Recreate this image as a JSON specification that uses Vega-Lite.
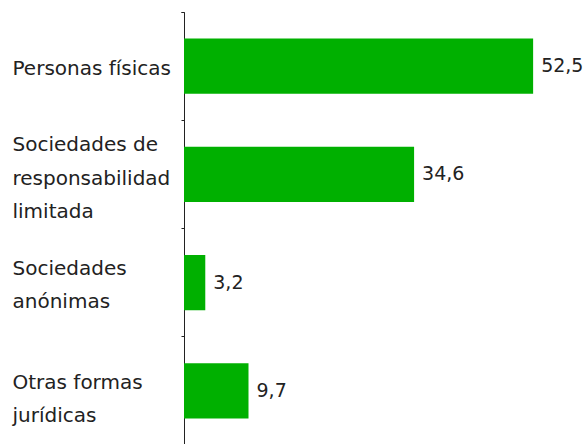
{
  "$schema": "https://vega.github.io/schema/vega-lite/v6.json",
  "width": 399,
  "height": 433,
  "autosize": {"type": "none"},
  "padding": {"left": 184, "top": 12, "right": 0, "bottom": 0},
  "config": {
    "view": {"stroke": null},
    "font": "DejaVu Sans",
    "locale": {"number": {"decimal": ",", "thousands": ".", "grouping": [3], "currency": ["", " €"]}}
  },
  "data": {
    "values": [
      {"forma": "Personas físicas", "pct": 52.5},
      {"forma": "Sociedades de|responsabilidad|limitada", "pct": 34.6},
      {"forma": "Sociedades|anónimas", "pct": 3.2},
      {"forma": "Otras formas|jurídicas", "pct": 9.7}
    ]
  },
  "encoding": {
    "y": {
      "field": "forma",
      "type": "nominal",
      "sort": null,
      "scale": {"paddingInner": 0, "paddingOuter": 0},
      "axis": {
        "title": null,
        "labelExpr": "split(datum.label, '|')",
        "labelAlign": "left",
        "labelBaseline": "middle",
        "labelPadding": 169,
        "bandPosition": 0,
        "labelOffset": {
          "condition": [
            {"test": "datum.value == 'Personas físicas'", "value": 3},
            {"test": "datum.value == 'Sociedades de|responsabilidad|limitada'", "value": -29},
            {"test": "datum.value == 'Sociedades|anónimas'", "value": -14}
          ],
          "value": -8
        },
        "labelFontSize": 20,
        "labelColor": "#222222",
        "labelLineHeight": 33.5,
        "labelLimit": 0,
        "tickSize": 3,
        "tickExtra": true,
        "tickColor": "#222222",
        "domainColor": "#222222",
        "grid": false
      }
    },
    "x": {
      "field": "pct",
      "type": "quantitative",
      "scale": {"domain": [0, 60], "nice": false},
      "axis": null
    }
  },
  "layer": [
    {"mark": {"type": "bar", "color": "#00B000", "height": {"band": 0.51}}},
    {
      "mark": {"type": "text", "align": "left", "baseline": "middle", "dx": 8, "fontSize": 19, "color": "#222222"},
      "encoding": {"text": {"field": "pct", "type": "quantitative", "format": ".1f"}}
    }
  ]
}
